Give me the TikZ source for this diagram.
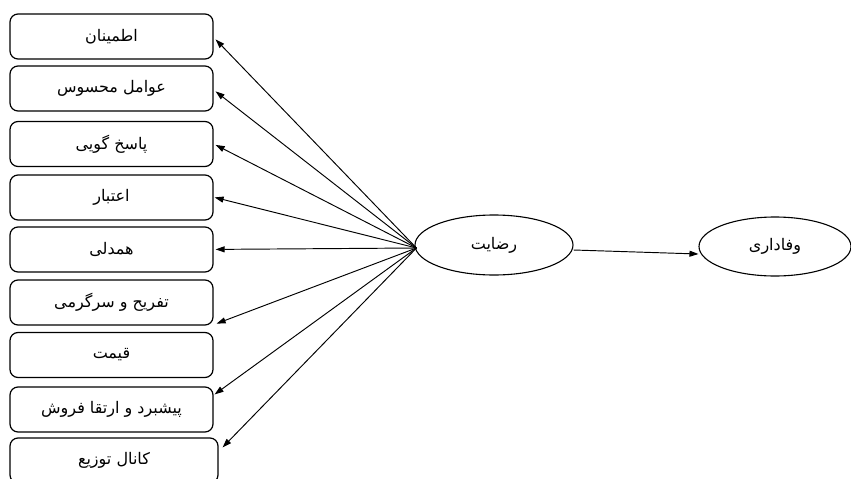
\documentclass[tikz,border=0pt]{standalone}
\usepackage{fontspec}
\newfontfamily\farsi[Script=Arabic]{DejaVu Sans}
\TeXXeTstate=1
\usetikzlibrary{arrows.meta,calc,shapes.geometric}
\newcommand{\fa}[1]{\farsi\beginR #1\endR}
\begin{document}
\begin{tikzpicture}[x=1pt,y=-1pt,
  factor/.style={draw, line width=1.2pt, rounded corners=8pt, minimum width=203pt,
    minimum height=45pt, inner sep=0pt, font=\fontsize{16}{18}\selectfont},
  latent/.style={draw, ellipse, line width=1.1pt, minimum width=158pt, minimum height=60pt,
    inner sep=0pt, font=\fontsize{16}{18}\selectfont},
  link/.style={line width=0.95pt, -{Triangle[length=9pt,width=6pt]}}]
\useasboundingbox (0,0) rectangle (851,479);

% factor boxes on the left
\node[factor] (b1) at (111.5,36.5)  {\fa{اطمینان}};
\node[factor] (b2) at (111.5,88.5)  {\fa{عوامل محسوس}};
\node[factor] (b3) at (111.5,144)   {\fa{پاسخ گویی}};
\node[factor] (b4) at (111.5,197.5) {\fa{اعتبار}};
\node[factor] (b5) at (111.5,249.5) {\fa{همدلی}};
\node[factor] (b6) at (111.5,302.5) {\fa{تفریح و سرگرمی}};
\node[factor] (b7) at (111.5,355)   {\fa{قیمت}};
\node[factor] (b8) at (111.5,409.5) {\fa{پیشبرد و ارتقا فروش}};
\node[factor, minimum width=208pt] (b9) at (114,460.5) {\fa{کانال توزیع}};

% latent variables
\node[latent] (sat) at (494,245) {\fa{رضایت}};
\node[latent, minimum width=152pt, minimum height=59pt] (loy) at (775,246.5) {\fa{وفاداری}};

% arrow end points on the boxes
\coordinate (hub) at ($(sat.west)+(2,3)$);
\coordinate (t1) at ($(b1.north east)+(2,26)$);
\coordinate (t2) at ($(b2.north east)+(2,26)$);
\coordinate (t3) at ($(b3.north east)+(2,24)$);
\coordinate (t4) at ($(b4.north east)+(1,23)$);
\coordinate (t5) at ($(b5.north east)+(2,23)$);
\coordinate (t6) at ($(b6.south east)+(3,-2)$);
\coordinate (t8) at ($(b8.north east)+(1,8)$);
\coordinate (t9) at ($(b9.north east)+(4,10)$);

\foreach \t in {t1,t2,t3,t4,t5,t6,t8,t9}
  \draw[link] (hub) -- (\t);

\draw[link] ($(sat.east)+(0,5)$) -- ($(loy.west)+(0,7.5)$);
\end{tikzpicture}
\end{document}
